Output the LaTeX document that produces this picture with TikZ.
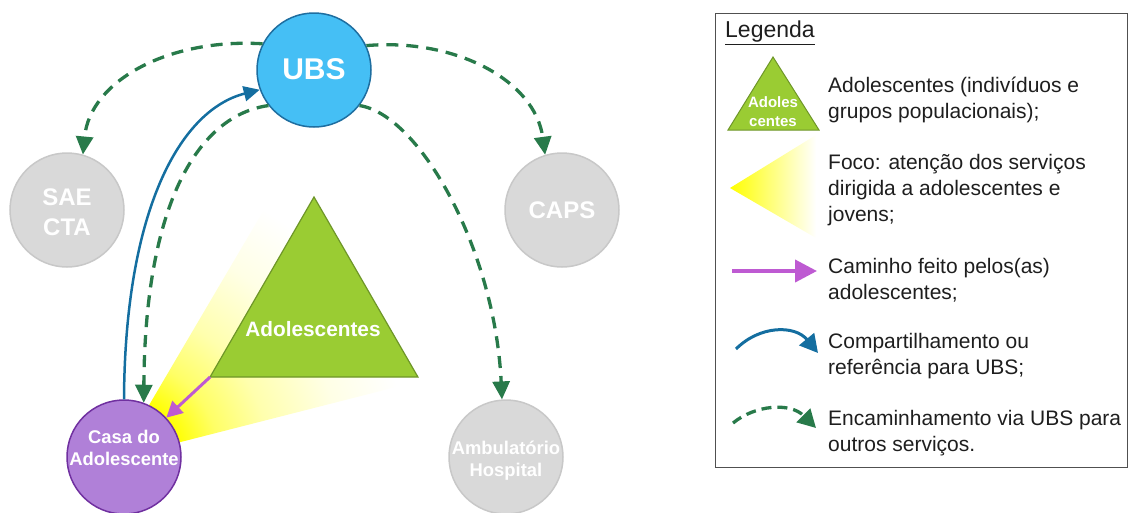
\documentclass[tikz,border=0pt]{standalone}
\usepackage{fontspec}
\setmainfont{Liberation Sans}
\usetikzlibrary{arrows.meta,shapes.geometric}

\definecolor{ubsfill}{RGB}{69,191,245}
\definecolor{ubsdraw}{RGB}{30,110,160}
\definecolor{grayfill}{RGB}{217,217,217}
\definecolor{graydraw}{RGB}{200,200,200}
\definecolor{casafill}{RGB}{176,128,216}
\definecolor{casadraw}{RGB}{112,48,160}
\definecolor{trifill}{RGB}{154,204,51}
\definecolor{tridraw}{RGB}{110,150,40}
\definecolor{flowgreen}{RGB}{40,122,74}
\definecolor{shareblue}{RGB}{20,110,160}
\definecolor{walkpurple}{RGB}{190,90,210}
\definecolor{legtext}{RGB}{30,30,30}
\definecolor{legframe}{RGB}{80,80,80}

% yellow glow radiating from the Casa do Adolescente
% (25bp is the rim of the shaded circle)
\pgfdeclareradialshading{focusglow}{\pgfpoint{0bp}{0bp}}{%
  color(0bp)=(yellow);
  color(3.8bp)=(yellow);
  color(6.3bp)=(yellow!60);
  color(9.4bp)=(yellow!32);
  color(13.8bp)=(yellow!10);
  color(18bp)=(white);
  color(50bp)=(white)}

\begin{document}
\begin{tikzpicture}[x=1pt,y=-1pt,
  svc/.style={circle, minimum size=114pt, inner sep=0pt, line width=1.5pt},
  ubsnode/.style={svc, fill=ubsfill, draw=ubsdraw},
  graynode/.style={svc, fill=grayfill, draw=graydraw},
  casanode/.style={svc, fill=casafill, draw=casadraw},
  whitetext/.style={text=white, align=center, inner sep=0pt},
  bigtext/.style={whitetext, font=\bfseries\fontsize{24}{30}\selectfont},
  smalltext/.style={whitetext, font=\bfseries\fontsize{18.4}{22}\selectfont},
  flow/.style={flowgreen, line width=3.3pt, dash pattern=on 12pt off 8pt,
    -{Triangle[length=18pt,width=17pt]}},
  share/.style={shareblue, line width=2.5pt, -{Triangle[length=16pt,width=15pt]}},
  walk/.style={walkpurple, line width=3pt, -{Triangle[length=16pt,width=16pt]}},
  legtxt/.style={anchor=west, align=left, inner sep=0pt, text=legtext,
    font=\fontsize{21}{26}\selectfont},
]
\useasboundingbox (0,0) rectangle (1129,512);

% focus cone behind the adolescents
\begin{scope}
  \clip (118,458) -- (292,162) -- (455,372) -- cycle;
  \shade[shading=focusglow] (118,458) circle (400);
\end{scope}

% adolescents triangle
\node[regular polygon, regular polygon sides=3, minimum size=240pt, inner sep=0pt,
  outer sep=0pt, fill=trifill, draw=tridraw, line width=1.2pt] (tri) at (314,317) {};
\node[whitetext, font=\bfseries\fontsize{20.8}{25}\selectfont] (trilabel) at (313,329) {Adolescentes};

% services
\node[ubsnode] (ubs) at (314,70) {};
\node[whitetext, font=\bfseries\fontsize{30}{36}\selectfont] (ubslabel) at (314,69) {UBS};
\node[graynode] (sae) at (67,210) {};
\node[bigtext] (saelabel) at (67,212) {SAE\\CTA};
\node[graynode] (caps) at (562,210) {};
\node[bigtext] (capslabel) at (562,210) {CAPS};
\node[graynode] (amb) at (506,457) {};
\node[smalltext] (amblabel) at (506,461) {Ambulatório\\Hospital};
\node[casanode] (casa) at (124,457) {};
\node[smalltext] (casalabel) at (124,448) {Casa do\\Adolescente};

% referrals from UBS
\draw[flow] (ubs.153) .. controls (170,38) and (90,80) .. (sae.74);
\draw[flow] (ubs.25) .. controls (455,38) and (535,80) .. (caps.107);
\draw[flow] (ubs.218) .. controls (200,115) and (145,200) .. (casa.70);
\draw[flow] (ubs.-38) .. controls (420,115) and (495,250) .. (amb.94);

% sharing with UBS
\draw[share] (casa.north) .. controls (125,210) and (180,110) .. (ubs.200);

% path taken by adolescents
\draw[walk] (tri.corner 2) -- (casa);

% legend
\draw[legframe, line width=1pt] (715,13) rectangle (1127,467);
\node[anchor=west, inner sep=0pt, text=legtext, font=\fontsize{23}{28}\selectfont]
  (legtitle) at (725,33) {\underline{Legenda}};

\draw[fill=trifill, draw=tridraw, line width=1pt] (728,130) -- (773,57) -- (819,130) -- cycle;
\node[whitetext, font=\bfseries\fontsize{15}{19}\selectfont] (legtri) at (773,112) {Adoles\\centes};
\node[legtxt] (leg1) at (828,100) {Adolescentes (indivíduos e\\grupos populacionais);};

\shade[left color=yellow, right color=white] (730,188) -- (816,135) -- (816,238) -- cycle;
\node[legtxt] (leg2) at (828,190) {Foco: atenção dos serviços\\dirigida a adolescentes e\\jovens;};

\coordinate (lw1) at (732,271);
\coordinate (lw2) at (817,271);
\draw[walkpurple, line width=4pt, -{Triangle[length=22pt,width=22pt]}] (lw1) -- (lw2);
\node[legtxt] (leg3) at (828,280) {Caminho feito pelos(as)\\adolescentes;};

\coordinate (ls1) at (736,349);
\coordinate (ls2) at (818,353);
\draw[shareblue, line width=3pt, -{Triangle[length=18pt,width=19pt]}]
  (ls1) .. controls (760,325) and (795,325) .. (ls2);
\node[legtxt] (leg4) at (828,356) {Compartilhamento ou\\referência para UBS;};

\coordinate (lf1) at (733,423);
\coordinate (lf2) at (816,428);
\draw[flowgreen, line width=3.3pt, dash pattern=on 10pt off 6pt,
  -{Triangle[length=18pt,width=19pt]}]
  (lf1) .. controls (755,405) and (790,402) .. (lf2);
\node[legtxt] (leg5) at (828,433) {Encaminhamento via UBS para\\outros serviços.};
\end{tikzpicture}
\end{document}
